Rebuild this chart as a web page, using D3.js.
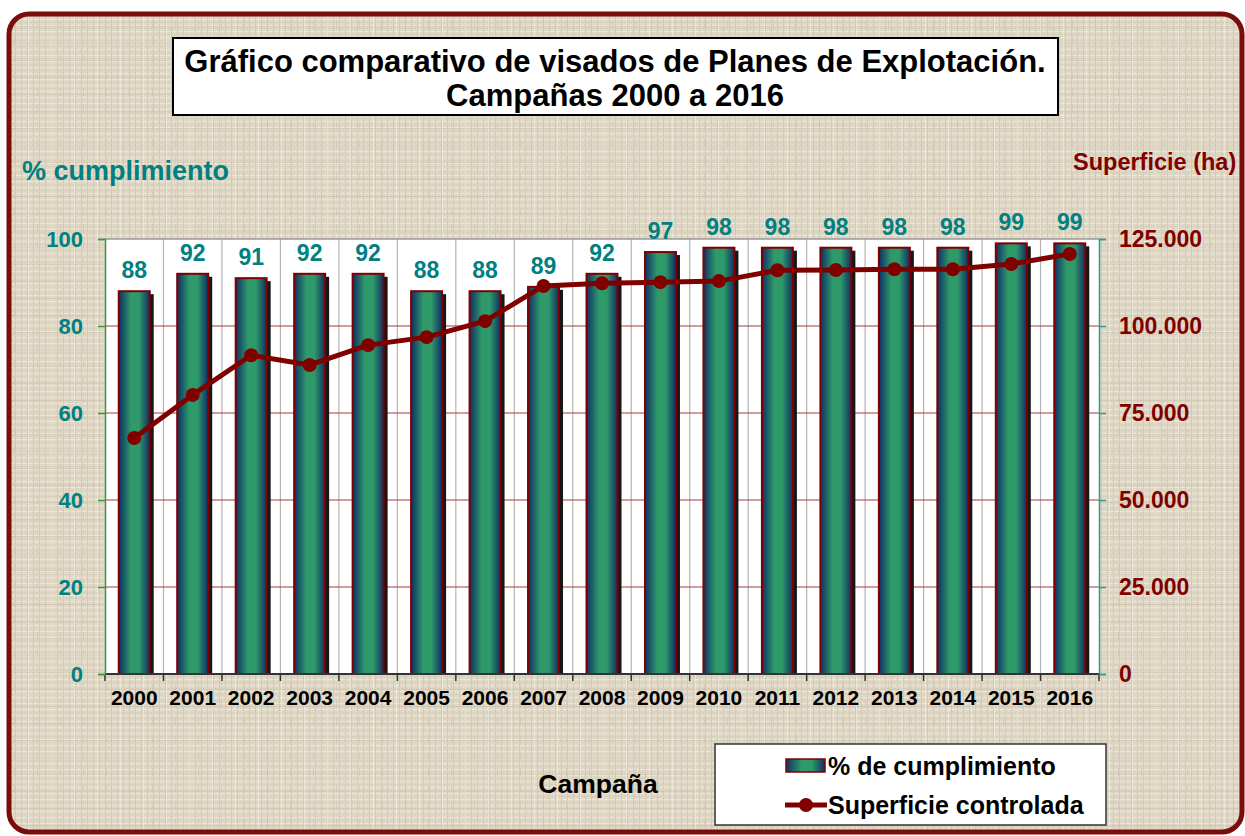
<!DOCTYPE html>
<html>
<head>
<meta charset="utf-8">
<script src="https://cdn.jsdelivr.net/npm/d3@7"></script>
<style>
  body { margin: 0; background: #fff; }
  #chart { width: 1245px; height: 836px; }
  text { font-family: Arial, "Liberation Sans", sans-serif; font-weight: bold; }
</style>
</head>
<body>
<div id="chart"></div>
<script>
// data
const years = ["2000", "2001", "2002", "2003", "2004", "2005", "2006", "2007", "2008",
  "2009", "2010", "2011", "2012", "2013", "2014", "2015", "2016"];
const cumplimiento = [88, 92, 91, 92, 92, 88, 88, 89, 92, 97, 98, 98, 98, 98, 98, 99, 99];
const superficie = [67800, 80200, 91600, 88800, 94500, 96800, 101400, 111500, 112300,
  112600, 112900, 116000, 116100, 116300, 116300, 117800, 120700];
const leftTicks = [0, 20, 40, 60, 80, 100];
const rightTicks = [0, 25000, 50000, 75000, 100000, 125000];

const width = 1245;
const height = 836;
const plot = { left: 105, right: 1099, top: 239, bottom: 674 };
const teal = "#008080";
const darkRed = "#800000";

let svg = d3.select("#chart").append("svg")
  .attr("width", width)
  .attr("height", height);

let defs = svg.append("defs");

// burlap-ish texture
let pat = defs.append("pattern")
  .attr("id", "cloth")
  .attr("patternUnits", "userSpaceOnUse")
  .attr("width", 6).attr("height", 6);
pat.append("rect").attr("width", 6).attr("height", 6).attr("fill", "#dfd8c6");
pat.append("rect").attr("x", 0).attr("y", 1).attr("width", 6).attr("height", 1).attr("fill", "#ebe6d7");
pat.append("rect").attr("x", 3).attr("y", 0).attr("width", 1).attr("height", 6).attr("fill", "#d2cab5");
pat.append("rect").attr("x", 0).attr("y", 4).attr("width", 6).attr("height", 1).attr("fill", "#d8d0bc");

let pat2 = defs.append("pattern")
  .attr("id", "cloth2")
  .attr("patternUnits", "userSpaceOnUse")
  .attr("width", 23).attr("height", 17);
pat2.append("rect").attr("x", 5).attr("y", 0).attr("width", 1).attr("height", 17).attr("fill", "#f3efe4").attr("opacity", 0.6);
pat2.append("rect").attr("x", 0).attr("y", 9).attr("width", 23).attr("height", 1).attr("fill", "#c4bca6").attr("opacity", 0.4);
pat2.append("rect").attr("x", 14).attr("y", 3).attr("width", 1).attr("height", 8).attr("fill", "#c2baa3").attr("opacity", 0.4);

let barGrad = defs.append("linearGradient")
  .attr("id", "barGrad")
  .attr("x1", "0%").attr("x2", "100%").attr("y1", "0%").attr("y2", "0%");
barGrad.append("stop").attr("offset", "0%").attr("stop-color", "#0f2f66");
barGrad.append("stop").attr("offset", "40%").attr("stop-color", "#2f9a69");
barGrad.append("stop").attr("offset", "65%").attr("stop-color", "#2f9a69");
barGrad.append("stop").attr("offset", "100%").attr("stop-color", "#0f2f66");

// background + frame
svg.append("rect").attr("width", width).attr("height", height).attr("fill", "#fff");
svg.append("rect")
  .attr("x", 9).attr("y", 14)
  .attr("width", 1233).attr("height", 818)
  .attr("rx", 20)
  .attr("fill", "url(#cloth)");
svg.append("rect")
  .attr("x", 9).attr("y", 14)
  .attr("width", 1233).attr("height", 818)
  .attr("rx", 20)
  .attr("fill", "url(#cloth2)")
  .attr("stroke", "#7a0c0c")
  .attr("stroke-width", 5);

// title
svg.append("rect")
  .attr("x", 173).attr("y", 38)
  .attr("width", 885).attr("height", 77)
  .attr("fill", "#fff")
  .attr("stroke", "#000")
  .attr("stroke-width", 2);
svg.append("text")
  .attr("x", 615).attr("y", 72)
  .attr("text-anchor", "middle")
  .style("font-size", "31px")
  .text("Gráfico comparativo de visados de Planes de Explotación.");
svg.append("text")
  .attr("x", 615).attr("y", 106)
  .attr("text-anchor", "middle")
  .style("font-size", "31px")
  .text("Campañas 2000 a 2016");

// scales
let x = d3.scaleBand()
  .domain(years)
  .range([plot.left, plot.right])
  .paddingInner(0.47)
  .paddingOuter(0.235);
let step = x.step();
let yLeft = d3.scaleLinear().domain([0, 100]).range([plot.bottom, plot.top]);
let yRight = d3.scaleLinear().domain([0, 125000]).range([plot.bottom, plot.top]);

// plot area
svg.append("rect")
  .attr("x", plot.left).attr("y", plot.top)
  .attr("width", plot.right - plot.left)
  .attr("height", plot.bottom - plot.top)
  .attr("fill", "#fff");

// vertical grid at category boundaries
svg.append("g").selectAll("line")
  .data(years.slice(1))
  .enter().append("line")
  .attr("x1", d => x(d) - x.paddingOuter() * step)
  .attr("x2", d => x(d) - x.paddingOuter() * step)
  .attr("y1", plot.top).attr("y2", plot.bottom)
  .attr("stroke", "#b4b4b4").attr("stroke-width", 1.2);

// horizontal grid
svg.append("g").selectAll("line")
  .data(leftTicks.slice(1, -1))
  .enter().append("line")
  .attr("x1", plot.left).attr("x2", plot.right)
  .attr("y1", d => yLeft(d)).attr("y2", d => yLeft(d))
  .attr("stroke", "#a83a3a").attr("stroke-width", 1);
svg.append("line")
  .attr("x1", plot.left).attr("x2", plot.right)
  .attr("y1", plot.top).attr("y2", plot.top)
  .attr("stroke", "#9a9a9a").attr("stroke-width", 1.5);

// bars
let bar = svg.append("g").selectAll("g")
  .data(years)
  .enter().append("g");

bar.append("rect")
  .attr("x", d => x(d) + 4)
  .attr("y", (d, i) => yLeft(cumplimiento[i]) + 3)
  .attr("width", x.bandwidth())
  .attr("height", (d, i) => plot.bottom - yLeft(cumplimiento[i]) - 3)
  .attr("fill", "#161616");

bar.append("rect")
  .attr("x", d => x(d))
  .attr("y", (d, i) => yLeft(cumplimiento[i]))
  .attr("width", x.bandwidth())
  .attr("height", (d, i) => plot.bottom - yLeft(cumplimiento[i]))
  .attr("fill", "url(#barGrad)")
  .attr("stroke", darkRed)
  .attr("stroke-width", 2);

bar.append("text")
  .attr("x", d => x(d) + x.bandwidth() / 2)
  .attr("y", (d, i) => yLeft(cumplimiento[i]) - 13)
  .attr("text-anchor", "middle")
  .attr("fill", teal)
  .style("font-size", "23px")
  .text((d, i) => cumplimiento[i]);

// x axis
let xAxis = svg.append("g")
  .attr("transform", `translate(0, ${plot.bottom})`);
xAxis.append("line")
  .attr("x1", plot.left).attr("x2", plot.right)
  .attr("stroke", "#333").attr("stroke-width", 2);
xAxis.selectAll(".tk")
  .data(years.concat(["end"]))
  .enter().append("line")
  .attr("x1", (d, i) => plot.left + i * step)
  .attr("x2", (d, i) => plot.left + i * step)
  .attr("y1", 0).attr("y2", 7)
  .attr("stroke", "#333").attr("stroke-width", 1.5);
xAxis.selectAll("text")
  .data(years)
  .enter().append("text")
  .attr("x", d => x(d) + x.bandwidth() / 2)
  .attr("y", 31)
  .attr("text-anchor", "middle")
  .attr("fill", "#000")
  .style("font-size", "21px")
  .text(d => d);

// left axis
let leftAxis = d3.axisLeft(yLeft).tickValues(leftTicks).tickSize(7).tickPadding(15);
let gl = svg.append("g")
  .attr("transform", `translate(${plot.left}, 0)`)
  .call(leftAxis);
gl.select(".domain").attr("stroke", "#3a963a").attr("stroke-width", 1.5);
gl.selectAll(".tick line").attr("stroke", "#3a963a").attr("stroke-width", 1.5);
gl.selectAll(".tick text")
  .attr("fill", teal)
  .style("font-size", "22px")
  .style("font-family", "Arial, 'Liberation Sans', sans-serif")
  .style("font-weight", "bold");

// right axis
let rightAxis = d3.axisRight(yRight).tickValues(rightTicks).tickSize(7).tickPadding(13)
  .tickFormat(d => d === 0 ? "0" : d3.format(",")(d).replace(/,/g, "."));
let gr = svg.append("g")
  .attr("transform", `translate(${plot.right}, 0)`)
  .call(rightAxis);
gr.select(".domain").attr("stroke", "#2a9a9a").attr("stroke-width", 1.5);
gr.selectAll(".tick line").attr("stroke", "#2a9a9a").attr("stroke-width", 1.5);
gr.selectAll(".tick text")
  .attr("fill", darkRed)
  .style("font-size", "23px")
  .style("font-family", "Arial, 'Liberation Sans', sans-serif")
  .style("font-weight", "bold");

// line series
let line = d3.line()
  .x((d, i) => x(years[i]) + x.bandwidth() / 2)
  .y(d => yRight(d));
svg.append("path")
  .datum(superficie)
  .attr("d", line)
  .attr("fill", "none")
  .attr("stroke", darkRed)
  .attr("stroke-width", 5)
  .attr("stroke-linejoin", "round");
svg.append("g").selectAll("circle")
  .data(superficie)
  .enter().append("circle")
  .attr("cx", (d, i) => x(years[i]) + x.bandwidth() / 2)
  .attr("cy", d => yRight(d))
  .attr("r", 7)
  .attr("fill", darkRed);

// axis titles
svg.append("text")
  .attr("x", 22).attr("y", 180)
  .attr("fill", teal)
  .style("font-size", "27px")
  .text("% cumplimiento");
svg.append("text")
  .attr("x", 1073).attr("y", 170)
  .attr("fill", darkRed)
  .style("font-size", "23.5px")
  .text("Superficie (ha)");
svg.append("text")
  .attr("x", 598).attr("y", 793)
  .attr("text-anchor", "middle")
  .attr("fill", "#000")
  .style("font-size", "26.5px")
  .text("Campaña");

// legend
let legend = svg.append("g");
legend.append("rect")
  .attr("x", 715).attr("y", 744)
  .attr("width", 391).attr("height", 81)
  .attr("fill", "#fff")
  .attr("stroke", "#333")
  .attr("stroke-width", 1.5);
legend.append("rect")
  .attr("x", 786).attr("y", 759)
  .attr("width", 39).attr("height", 13)
  .attr("fill", "url(#barGrad)")
  .attr("stroke", darkRed)
  .attr("stroke-width", 1.5);
legend.append("text")
  .attr("x", 828).attr("y", 775)
  .attr("fill", "#000")
  .style("font-size", "25px")
  .text("% de cumplimiento");
legend.append("line")
  .attr("x1", 785).attr("x2", 827)
  .attr("y1", 805).attr("y2", 805)
  .attr("stroke", darkRed)
  .attr("stroke-width", 5);
legend.append("circle")
  .attr("cx", 806).attr("cy", 805).attr("r", 7)
  .attr("fill", darkRed);
legend.append("text")
  .attr("x", 828).attr("y", 814)
  .attr("fill", "#000")
  .style("font-size", "25px")
  .text("Superficie controlada");
</script>
</body>
</html>
